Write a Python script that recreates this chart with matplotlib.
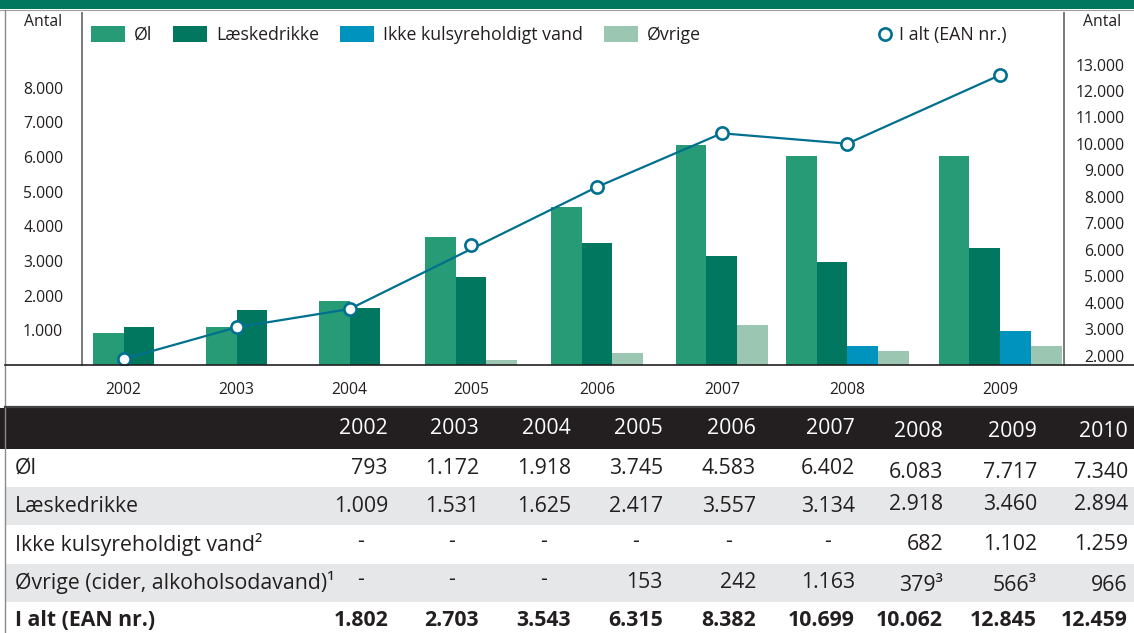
import matplotlib
matplotlib.use('Agg')
import matplotlib.pyplot as plt
from matplotlib.patches import Rectangle, Patch
from matplotlib.lines import Line2D

plt.rcParams['font.family'] = ['Open Sans', 'DejaVu Sans']

# ---------------- data ----------------
years = ['2002', '2003', '2004', '2005', '2006', '2007', '2008', '2009']
series_names = ['Øl', 'Læskedrikke', 'Ikke kulsyreholdigt vand', 'Øvrige']
ol = [909, 1110, 1860, 3706, 4543, 6360, 6014, 6014]
laeskedrikke = [1082, 1600, 1630, 2524, 3533, 3130, 2985, 3389]
ikke_kulsyre = [None, None, None, None, None, None, 534, 995]
ovrige = [None, None, None, 140, 332, 1140, 418, 562]
total_name = 'I alt (EAN nr.)'
total = [1868, 3066, 3758, 6178, 8371, 10401, 10008, 12605]
line_skips = ['2005']          # marker not joined by the line in the original

left_ticks = [1000, 2000, 3000, 4000, 5000, 6000, 7000, 8000]
right_ticks = [2000, 3000, 4000, 5000, 6000, 7000, 8000, 9000, 10000, 11000, 12000, 13000]
axis_title = 'Antal'

# ---------------- table ----------------
table_years = ['2002', '2003', '2004', '2005', '2006', '2007', '2008', '2009', '2010']
table_labels = ['Øl', 'Læskedrikke', 'Ikke kulsyreholdigt vand²',
                'Øvrige (cider, alkoholsodavand)¹', 'I alt (EAN nr.)']
t_ol = ['793', '1.172', '1.918', '3.745', '4.583', '6.402', '6.083', '7.717', '7.340']
t_laesk = ['1.009', '1.531', '1.625', '2.417', '3.557', '3.134', '2.918', '3.460', '2.894']
t_ikke = ['-', '-', '-', '-', '-', '-', '682', '1.102', '1.259']
t_ovrige = ['-', '-', '-', '153', '242', '1.163', '379³', '566³', '966']
t_total = ['1.802', '2.703', '3.543', '6.315', '8.382', '10.699', '10.062', '12.845', '12.459']

# ---------------- style / layout ----------------
W, H = 1134, 633
C_OL, C_LAESK, C_IKKE, C_OVR = '#279b76', '#00775e', '#0093bd', '#9bc6b1'
C_LINE = '#00708f'
C_TXT = '#231f20'
C_AXIS = '#6d6e71'
colors = [C_OL, C_LAESK, C_IKKE, C_OVR]

AX_L, AX_R, AX_T, AX_B = 82, 1064, 13, 365
N_SLOTS = 32.0                                   # bar-width slots across the plot
group_start = [0.36, 4.04, 7.72, 11.18, 15.28, 19.35, 22.94, 27.92]
LEFT_LIM = (0, 10153)
RIGHT_LIM = (1641, 14949)

fig = plt.figure(figsize=(W / 100, H / 100), dpi=100)
fig.patch.set_facecolor('white')

ax = fig.add_axes([AX_L / W, 1 - AX_B / H, (AX_R - AX_L) / W, (AX_B - AX_T) / H])
ax.set_facecolor('none')
ax.set_xlim(0, N_SLOTS)
ax.set_ylim(*LEFT_LIM)

all_series = [ol, laeskedrikke, ikke_kulsyre, ovrige]
centers = []
for gi, yr in enumerate(years):
    present = [si for si in range(4) if all_series[si][gi] is not None]
    for k, si in enumerate(present):
        ax.bar(group_start[gi] + k, all_series[si][gi], width=1.0, align='edge',
               color=colors[si], linewidth=0, zorder=2)
    centers.append(group_start[gi] + len(present) / 2)

TICK_FS = 11.3
ax.set_xticks(centers)
ax.set_xticklabels(years, fontsize=TICK_FS, color=C_TXT)
ax.tick_params(axis='x', length=0, pad=12)
ax.set_yticks(left_ticks)
ax.set_yticklabels([f'{v:,}'.replace(',', '.') for v in left_ticks], fontsize=TICK_FS, color=C_TXT)
ax.tick_params(axis='y', length=0, pad=13.5)
for s in ['top', 'bottom', 'right']:
    ax.spines[s].set_visible(False)
ax.spines['left'].set_color(C_AXIS)
ax.spines['left'].set_linewidth(1.3)

ax2 = ax.twinx()
ax2.set_ylim(*RIGHT_LIM)
ax2.set_yticks(right_ticks)
ax2.set_yticklabels([f'{v:,}'.replace(',', '.') for v in right_ticks], fontsize=TICK_FS, color=C_TXT)
ax2.tick_params(axis='y', length=0, pad=43.5)
for lab in ax2.get_yticklabels():
    lab.set_horizontalalignment('right')
for s in ['top', 'bottom', 'left']:
    ax2.spines[s].set_visible(False)
ax2.spines['right'].set_color(C_AXIS)
ax2.spines['right'].set_linewidth(1.3)

# line (the 2005 marker sits off the line in the original)
lx = [c for c, y in zip(centers, years) if y not in line_skips]
ly = [v for v, y in zip(total, years) if y not in line_skips]
ax2.plot(lx, ly, color=C_LINE, lw=1.6, zorder=3)
ax2.plot(centers, total, linestyle='none', marker='o', ms=8.8, mfc='white',
         mec=C_LINE, mew=1.9, zorder=4)

# axis titles
fig.text(43 / W, 1 - 22 / H, axis_title, ha='center', va='center', fontsize=TICK_FS, color=C_TXT)
fig.text(1102 / W, 1 - 22 / H, axis_title, ha='center', va='center', fontsize=TICK_FS, color=C_TXT)

# legends
LEG_FS = 12.8
handles = [Patch(facecolor=c, edgecolor='none') for c in colors]
fig.legend(handles, series_names, loc='center left', bbox_to_anchor=(91 / W, 1 - 35 / H),
           ncol=4, frameon=False, fontsize=LEG_FS, borderpad=0, borderaxespad=0,
           handlelength=1.91, handleheight=1.01, handletextpad=0.5, columnspacing=1.18,
           labelcolor=C_TXT)
h_line = Line2D([], [], linestyle='none', marker='o', ms=8.8, mfc='white', mec=C_LINE, mew=1.9)
fig.legend([h_line], [total_name], loc='center left', bbox_to_anchor=(880 / W, 1 - 35 / H),
           frameon=False, fontsize=LEG_FS, borderpad=0, borderaxespad=0, handlelength=0.6,
           handletextpad=0.45, labelcolor=C_TXT)

# ---------------- overlay: frame + table ----------------
ov = fig.add_axes([0, 0, 1, 1], zorder=10)
ov.set_xlim(0, W)
ov.set_ylim(H, 0)
ov.axis('off')
ov.patch.set_visible(False)

ov.add_patch(Rectangle((0, 0), W, 9, color=C_LAESK, lw=0))
ov.plot([0, W], [9.5, 9.5], color='#9d9d9d', lw=0.8)
ov.plot([5, 5], [9.5, H], color='#8a8a8a', lw=1.0)
ov.plot([5, W], [365, 365], color=C_TXT, lw=1.2)
ov.plot([5, W], [406.5, 406.5], color='#444444', lw=1.6)

HEAD_T, HEAD_B = 408, 449
ROW_H = 38.2
ov.add_patch(Rectangle((0, HEAD_T), W, HEAD_B - HEAD_T, color=C_TXT, lw=0))
col_right = [388, 479, 571, 663, 756, 855, 943, 1037, 1128]
TFS = 15.3
last3_shift = [3, 4, -2, 0, 3, 0]
for ci, yr in enumerate(table_years):
    dy = last3_shift[0] if ci >= 6 else 0
    ov.text(col_right[ci], (HEAD_T + HEAD_B) / 2 + dy, yr, ha='right', va='center',
            fontsize=TFS, color='white')

rows = [t_ol, t_laesk, t_ikke, t_ovrige, t_total]
for ri, (lab, vals) in enumerate(zip(table_labels, rows)):
    top = HEAD_B + ri * ROW_H
    if ri % 2 == 1:
        ov.add_patch(Rectangle((5, top), W - 5, ROW_H, color='#e6e7e8', lw=0, zorder=0))
    yc = top + ROW_H / 2
    bold = (ri == len(rows) - 1)
    ov.text(15, yc, lab, ha='left', va='center', fontsize=TFS, color=C_TXT,
            fontweight='bold' if bold else 'normal')
    for ci, v in enumerate(vals):
        dy = last3_shift[ri + 1] if ci >= 6 else 0
        if v == '-':
            ov.text(col_right[ci] - 27, yc - 3, v, ha='center', va='center', fontsize=TFS,
                    color=C_TXT)
        else:
            ov.text(col_right[ci], yc + dy, v, ha='right', va='center', fontsize=TFS,
                    color=C_TXT, fontweight='bold' if bold else 'normal')

fig.savefig('out.png', dpi=100)
